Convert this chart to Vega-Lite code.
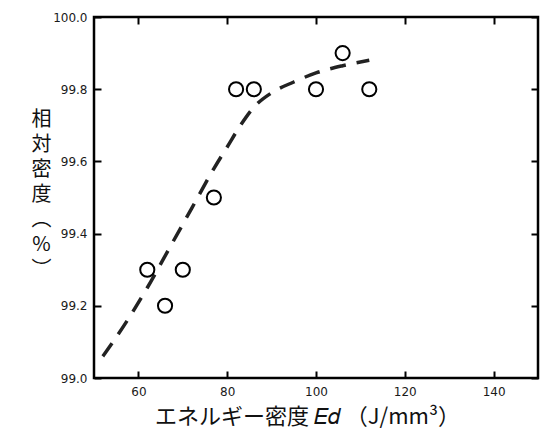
{
  "$schema": "https://vega.github.io/schema/vega-lite/v6.json",
  "width": 444,
  "height": 361,
  "autosize": "none",
  "padding": {"left": 94, "top": 17, "right": 6, "bottom": 53},
  "background": "white",
  "config": {
    "view": {"stroke": "black", "strokeWidth": 2.5},
    "axis": {
      "grid": false,
      "ticks": true,
      "domain": false,
      "offset": -7,
      "tickColor": "black",
      "tickWidth": 2,
      "tickSize": 7,
      "labelFont": "DejaVu Sans",
      "labelFontSize": 12,
      "labelColor": "#1a1a1a",
      "titleFont": "Noto Sans CJK JP",
      "titleFontSize": 20,
      "titleFontWeight": "normal",
      "titleColor": "#111"
    }
  },
  "datasets": {
    "curve": [
      {"e": 52, "rho": 99.06},
      {"e": 57, "rho": 99.15},
      {"e": 62, "rho": 99.25},
      {"e": 67, "rho": 99.36},
      {"e": 72, "rho": 99.47},
      {"e": 77, "rho": 99.58},
      {"e": 80, "rho": 99.64},
      {"e": 83, "rho": 99.7},
      {"e": 86, "rho": 99.75},
      {"e": 90, "rho": 99.79},
      {"e": 95, "rho": 99.82},
      {"e": 100, "rho": 99.845},
      {"e": 106, "rho": 99.865},
      {"e": 112, "rho": 99.88}
    ],
    "pts": [
      {"e": 62, "rho": 99.3},
      {"e": 66, "rho": 99.2},
      {"e": 70, "rho": 99.3},
      {"e": 77, "rho": 99.5},
      {"e": 82, "rho": 99.8},
      {"e": 86, "rho": 99.8},
      {"e": 100, "rho": 99.8},
      {"e": 106, "rho": 99.9},
      {"e": 112, "rho": 99.8}
    ]
  },
  "layer": [
    {
      "data": {"name": "curve"},
      "mark": {"type": "line", "interpolate": "monotone", "color": "#222", "strokeWidth": 3.5, "strokeDash": [16, 11]},
      "encoding": {
        "x": {
          "field": "e", "type": "quantitative",
          "scale": {"domain": [50, 150], "nice": false},
          "axis": {"orient": "bottom", "values": [60, 80, 100, 120, 140], "labelPadding": 8,
                   "title": "エネルギー密度 𝐸𝑑 （J/mm³）", "titleFontSize": 22, "titlePadding": 9,
                   "titleX": 213, "titleAlign": "center"}
        },
        "y": {
          "field": "rho", "type": "quantitative",
          "scale": {"domain": [99.0, 100.0], "nice": false, "zero": false},
          "axis": {"orient": "left", "values": [99.0, 99.2, 99.4, 99.6, 99.8, 100.0], "format": ".1f", "labelPadding": 7,
                   "title": ["相", "対", "密", "度", "︵", "%", "︶"], "titleAngle": 0, "titleLineHeight": 25,
                   "titleX": -60, "titleY": 92, "titleAlign": "center", "titleBaseline": "top"}
        }
      }
    },
    {
      "data": {"name": "pts"},
      "mark": {"type": "point", "shape": "circle", "filled": false, "size": 200, "strokeWidth": 2, "color": "black", "opacity": 1},
      "encoding": {
        "x": {"field": "e", "type": "quantitative",
              "axis": {"orient": "top", "values": [60, 80, 100, 120, 140], "labels": false, "title": null}},
        "y": {"field": "rho", "type": "quantitative",
              "axis": {"orient": "right", "values": [99.0, 99.2, 99.4, 99.6, 99.8, 100.0], "labels": false, "title": null}}
      }
    }
  ],
  "resolve": {"axis": {"x": "independent", "y": "independent"}}
}
